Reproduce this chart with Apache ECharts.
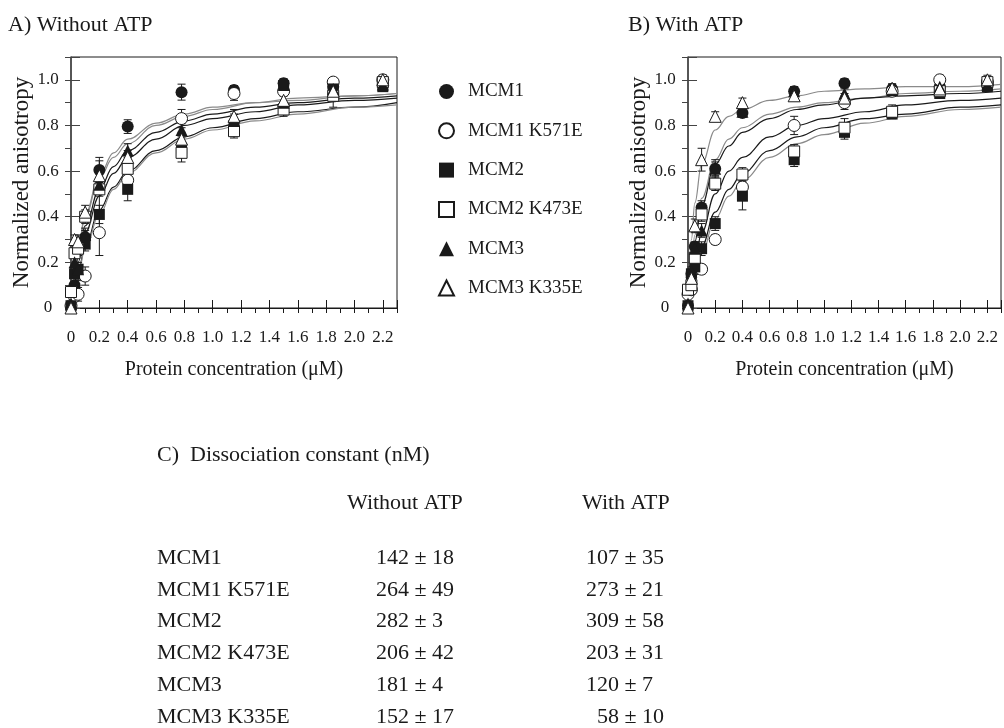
<!DOCTYPE html>
<html>
<head>
<meta charset="utf-8">
<title>MCM binding - anisotropy</title>
<script src="https://cdn.jsdelivr.net/npm/echarts@6/dist/echarts.min.js"></script>
<style>
html, body { margin: 0; padding: 0; background: #fff; }
#chart_main { width: 1004px; height: 728px; }
</style>
</head>
<body>
<div id="chart_main"></div>
<script>
// protein names (legend + table rows)
var names = ['MCM1', 'MCM1 K571E', 'MCM2', 'MCM2 K473E', 'MCM3', 'MCM3 K335E'];
var symbols = ['circle', 'circle', 'rect', 'rect', 'triangle', 'triangle'];
var filled = [true, false, true, false, true, false];

// protein concentration (uM) of the measured points
var conc = [0, 0.025, 0.05, 0.1, 0.2, 0.4, 0.78, 1.15, 1.5, 1.85, 2.2];

// A) without ATP - normalized anisotropy
var noAtp_mcm1  = [0.00, 0.10, 0.15, 0.31, 0.605, 0.795, 0.946, 0.955, 0.985, 0.97, 0.98];
var noAtp_k571e = [0.01, 0.05, 0.06, 0.14, 0.33, 0.56, 0.83, 0.94, 0.95, 0.99, 1.00];
var noAtp_mcm2  = [0.01, 0.15, 0.17, 0.28, 0.41, 0.52, 0.70, 0.80, 0.975, 0.96, 0.97];
var noAtp_k473e = [0.07, 0.24, 0.26, 0.40, 0.52, 0.61, 0.68, 0.775, 0.87, 0.93, 0.99];
var noAtp_mcm3  = [0.02, 0.20, 0.17, 0.32, 0.54, 0.69, 0.78, 0.82, 0.90, 0.96, 0.98];
var noAtp_k335e = [0.00, 0.30, 0.29, 0.42, 0.58, 0.66, 0.74, 0.84, 0.91, 0.95, 1.00];
// error bars (+/-)
var noAtpErr_mcm1  = [0, 0, 0.03, 0.03, 0.04, 0.03, 0.035, 0.02, 0.02, 0.02, 0.02];
var noAtpErr_k571e = [0, 0, 0.03, 0.04, 0.10, 0.04, 0.04, 0.03, 0.02, 0.02, 0.02];
var noAtpErr_mcm2  = [0, 0.02, 0.03, 0.03, 0.04, 0.05, 0.03, 0.02, 0.02, 0.02, 0.02];
var noAtpErr_k473e = [0, 0.02, 0.03, 0.03, 0.03, 0.04, 0.04, 0.03, 0.03, 0.05, 0.02];
var noAtpErr_mcm3  = [0, 0.02, 0.02, 0.03, 0.12, 0.03, 0.03, 0.03, 0.03, 0.02, 0.02];
var noAtpErr_k335e = [0, 0.02, 0.03, 0.03, 0.04, 0.03, 0.03, 0.03, 0.03, 0.02, 0.02];

// B) with ATP
var atp_mcm1  = [0.01, 0.15, 0.27, 0.44, 0.61, 0.855, 0.95, 0.985, 0.96, 0.97, 0.98];
var atp_k571e = [0.06, 0.08, 0.17, 0.17, 0.30, 0.53, 0.80, 0.90, 0.95, 1.00, 0.99];
var atp_mcm2  = [0.01, 0.15, 0.18, 0.26, 0.37, 0.49, 0.65, 0.77, 0.85, 0.94, 0.97];
var atp_k473e = [0.08, 0.10, 0.22, 0.41, 0.545, 0.585, 0.686, 0.79, 0.86, 0.95, 0.99];
var atp_mcm3  = [0.02, 0.16, 0.26, 0.34, 0.61, 0.86, 0.95, 0.94, 0.955, 0.97, 0.98];
var atp_k335e = [0.00, 0.13, 0.36, 0.65, 0.84, 0.90, 0.93, 0.92, 0.963, 0.96, 1.00];
var atpErr_mcm1  = [0, 0.02, 0.02, 0.03, 0.04, 0.02, 0.02, 0.02, 0.02, 0.02, 0.02];
var atpErr_k571e = [0, 0.02, 0.02, 0.02, 0.02, 0.03, 0.04, 0.03, 0.02, 0.02, 0.02];
var atpErr_mcm2  = [0, 0.02, 0.02, 0.03, 0.03, 0.06, 0.03, 0.03, 0.02, 0.02, 0.02];
var atpErr_k473e = [0, 0.02, 0.03, 0.03, 0.03, 0.03, 0.03, 0.04, 0.03, 0.02, 0.02];
var atpErr_mcm3  = [0, 0.02, 0.02, 0.03, 0.03, 0.02, 0.02, 0.02, 0.02, 0.02, 0.02];
var atpErr_k335e = [0, 0.02, 0.03, 0.05, 0.02, 0.02, 0.02, 0.02, 0.02, 0.02, 0.02];

// fitted binding curves, sampled from the figure
var fitX = [0, 0.025, 0.05, 0.1, 0.2, 0.3, 0.4, 0.6, 0.8, 1.0, 1.3, 1.6, 2.0, 2.3];
var noAtpFit_mcm1  = [0, 0.15, 0.26, 0.41, 0.58, 0.68, 0.74, 0.81, 0.85, 0.88, 0.90, 0.92, 0.93, 0.94];
var noAtpFit_k571e = [0, 0.09, 0.16, 0.27, 0.43, 0.53, 0.60, 0.69, 0.75, 0.79, 0.83, 0.86, 0.88, 0.90];
var noAtpFit_mcm2  = [0, 0.08, 0.15, 0.26, 0.41, 0.52, 0.59, 0.68, 0.74, 0.78, 0.82, 0.85, 0.88, 0.89];
var noAtpFit_k473e = [0, 0.11, 0.20, 0.33, 0.49, 0.59, 0.66, 0.74, 0.80, 0.83, 0.86, 0.89, 0.91, 0.92];
var noAtpFit_mcm3  = [0, 0.12, 0.22, 0.36, 0.52, 0.62, 0.69, 0.77, 0.82, 0.85, 0.88, 0.90, 0.92, 0.93];
var noAtpFit_k335e = [0, 0.14, 0.25, 0.40, 0.57, 0.66, 0.72, 0.80, 0.84, 0.87, 0.90, 0.91, 0.93, 0.94];
var atpFit_mcm1  = [0, 0.19, 0.32, 0.48, 0.65, 0.74, 0.79, 0.85, 0.88, 0.90, 0.92, 0.94, 0.95, 0.96];
var atpFit_k571e = [0, 0.08, 0.15, 0.27, 0.42, 0.52, 0.59, 0.69, 0.75, 0.79, 0.83, 0.85, 0.88, 0.89];
var atpFit_mcm2  = [0, 0.07, 0.14, 0.24, 0.39, 0.49, 0.56, 0.66, 0.72, 0.76, 0.81, 0.84, 0.87, 0.88];
var atpFit_k473e = [0, 0.11, 0.20, 0.33, 0.50, 0.60, 0.66, 0.75, 0.80, 0.83, 0.86, 0.89, 0.91, 0.92];
var atpFit_mcm3  = [0, 0.17, 0.29, 0.45, 0.63, 0.71, 0.77, 0.83, 0.87, 0.89, 0.92, 0.93, 0.94, 0.95];
var atpFit_k335e = [0, 0.30, 0.46, 0.63, 0.78, 0.84, 0.87, 0.91, 0.93, 0.95, 0.96, 0.97, 0.97, 0.98];

// C) dissociation constants (nM)
var kdNoAtp    = [142, 264, 282, 206, 181, 152];
var kdNoAtpErr = [18, 49, 3, 42, 4, 17];
var kdAtp      = [107, 273, 309, 203, 120, 58];
var kdAtpErr   = [35, 21, 58, 31, 7, 10];

var noAtpVals = [noAtp_mcm1, noAtp_k571e, noAtp_mcm2, noAtp_k473e, noAtp_mcm3, noAtp_k335e];
var noAtpErrs = [noAtpErr_mcm1, noAtpErr_k571e, noAtpErr_mcm2, noAtpErr_k473e, noAtpErr_mcm3, noAtpErr_k335e];
var atpVals = [atp_mcm1, atp_k571e, atp_mcm2, atp_k473e, atp_mcm3, atp_k335e];
var atpErrs = [atpErr_mcm1, atpErr_k571e, atpErr_mcm2, atpErr_k473e, atpErr_mcm3, atpErr_k335e];
var noAtpFits = [noAtpFit_mcm1, noAtpFit_k571e, noAtpFit_mcm2, noAtpFit_k473e, noAtpFit_mcm3, noAtpFit_k335e];
var atpFits = [atpFit_mcm1, atpFit_k571e, atpFit_mcm2, atpFit_k473e, atpFit_mcm3, atpFit_k335e];
var fitColors = ['#8a8a8a', '#1a1a1a', '#8a8a8a', '#1a1a1a', '#1a1a1a', '#8a8a8a'];

var SERIF = '"Liberation Serif", "Times New Roman", serif';
var INK = '#1a1a1a';

function tickLabel(v) {
    if (Math.abs(v * 5 - Math.round(v * 5)) > 1e-6) return '';
    return v === 0 ? '0' : v.toFixed(1);
}

function zip(xs, ys) {
    var out = [];
    for (var i = 0; i < xs.length; i++) {
        if (ys[i] != null) out.push([xs[i], ys[i]]);
    }
    return out;
}

function errData(vals, errs) {
    var out = [];
    for (var i = 0; i < conc.length; i++) {
        if (errs[i] > 0) out.push([conc[i], vals[i] - errs[i], vals[i] + errs[i]]);
    }
    return out;
}

function renderErr(params, api) {
    var x = api.value(0);
    var top = api.coord([x, api.value(2)]);
    var bot = api.coord([x, api.value(1)]);
    var w = 4;
    var st = { stroke: INK, lineWidth: 1 };
    return {
        type: 'group',
        children: [
            { type: 'line', shape: { x1: top[0], y1: top[1], x2: bot[0], y2: bot[1] }, style: st },
            { type: 'line', shape: { x1: top[0] - w, y1: top[1], x2: top[0] + w, y2: top[1] }, style: st },
            { type: 'line', shape: { x1: bot[0] - w, y1: bot[1], x2: bot[0] + w, y2: bot[1] }, style: st }
        ]
    };
}

// main axes (labels, long ticks) + helper axes (short ticks every 0.1)
function mainX(grid) {
    return {
        type: 'value', gridIndex: grid, min: 0, max: 2.3, interval: 0.2,
        name: 'Protein concentration (\u03bcM)', nameLocation: 'middle', nameGap: 52,
        nameTextStyle: { fontFamily: SERIF, fontSize: 20, color: INK },
        axisLine: { show: true, lineStyle: { color: INK, width: 1 } },
        axisTick: { show: true, inside: true, length: 8, lineStyle: { color: INK } },
        axisLabel: { fontFamily: SERIF, fontSize: 17, color: INK, margin: 21, formatter: tickLabel },
        splitLine: { show: false }
    };
}
function minorX(grid) {
    return {
        type: 'value', gridIndex: grid, min: 0, max: 2.3, interval: 0.1,
        axisLine: { show: false },
        axisTick: { show: true, inside: true, length: 5, lineStyle: { color: INK } },
        axisLabel: { show: false }, splitLine: { show: false }
    };
}
function mainY(grid) {
    return {
        type: 'value', gridIndex: grid, min: 0, max: 1.1, interval: 0.2,
        name: 'Normalized anisotropy', nameLocation: 'middle', nameGap: 38, nameRotate: 90,
        nameTextStyle: { fontFamily: SERIF, fontSize: 23, color: INK },
        axisLine: { show: true, lineStyle: { color: '#444', width: 1.5 } },
        axisTick: { show: true, inside: true, length: 9, lineStyle: { color: '#444' } },
        axisLabel: { fontFamily: SERIF, fontSize: 17, color: INK, margin: 23, align: 'center', formatter: tickLabel },
        splitLine: { show: false }
    };
}
function minorY(grid) {
    return {
        type: 'value', gridIndex: grid, min: 0, max: 1.1, interval: 0.1,
        axisLine: { show: false },
        axisTick: { show: true, inside: true, length: 6, lineStyle: { color: '#444' } },
        axisLabel: { show: false }, splitLine: { show: false }
    };
}

function buildSeries(panel, vals, errs, fits) {
    var out = [];
    for (var i = 0; i < names.length; i++) {
        out.push({
            name: names[i] + ' fit ' + panel, type: 'line', xAxisIndex: panel, yAxisIndex: panel,
            data: zip(fitX, fits[i]), smooth: 0.4, smoothMonotone: 'x', showSymbol: false,
            lineStyle: { color: fitColors[i], width: 1.2 }, z: 2, silent: true
        });
        out.push({
            name: names[i] + ' err ' + panel, type: 'custom', xAxisIndex: panel, yAxisIndex: panel,
            data: errData(vals[i], errs[i]), renderItem: renderErr,
            encode: { x: 0, y: [1, 2] }, z: 3, silent: true
        });
    }
    for (var j = 0; j < names.length; j++) {
        out.push({
            name: names[j], type: 'scatter', xAxisIndex: panel, yAxisIndex: panel,
            data: zip(conc, vals[j]), symbol: symbols[j],
            symbolSize: symbols[j] == 'rect' ? 11 : 12,
            itemStyle: {
                color: filled[j] ? INK : '#fff',
                borderColor: INK, borderWidth: filled[j] ? 0 : 1, opacity: 1
            },
            z: 4
        });
    }
    return out;
}

function tableGraphics() {
    var g = [];
    var txt = function(x, y, s) {
        return { type: 'text', x: x, y: y, style: { text: s, fontFamily: SERIF, fontSize: 22, fill: INK, verticalAlign: 'middle' } };
    };
    g.push(txt(8, 25, 'A) Without ATP'));
    g.push(txt(628, 25, 'B) With ATP'));
    g.push(txt(157, 455, 'C)  Dissociation constant (nM)'));
    g.push(txt(347, 503, 'Without ATP'));
    g.push(txt(582, 503, 'With ATP'));
    var digit = 11;
    for (var i = 0; i < names.length; i++) {
        var y = 558 + i * 31.8;
        g.push(txt(157, y, names[i]));
        g.push(txt(376 + (3 - String(kdNoAtp[i]).length) * digit, y, kdNoAtp[i] + ' \u00b1 ' + kdNoAtpErr[i]));
        g.push(txt(586 + (3 - String(kdAtp[i]).length) * digit, y, kdAtp[i] + ' \u00b1 ' + kdAtpErr[i]));
    }
    return g;
}

var myChart = echarts.init(document.getElementById('chart_main'), null, { renderer: 'canvas' });
var option = {
    animation: false,
    backgroundColor: '#fff',
    legend: {
        data: names.map(function(n, i) { return { name: n, icon: symbols[i] }; }),
        orient: 'vertical', left: 433, top: 77,
        itemWidth: 15, itemHeight: 15, itemGap: 20.3,
        selectedMode: false,
        textStyle: { fontFamily: SERIF, fontSize: 19, color: INK, padding: [0, 0, 0, 9] }
    },
    grid: [
        { left: 71, top: 57, width: 326, height: 251, show: true, borderColor: INK, borderWidth: 1, containLabel: false },
        { left: 688, top: 57, width: 327, height: 251, show: true, borderColor: INK, borderWidth: 1, containLabel: false }
    ],
    xAxis: [mainX(0), mainX(1), minorX(0), minorX(1)],
    yAxis: [mainY(0), mainY(1), minorY(0), minorY(1)],
    graphic: tableGraphics(),
    series: buildSeries(0, noAtpVals, noAtpErrs, noAtpFits).concat(buildSeries(1, atpVals, atpErrs, atpFits))
};
myChart.setOption(option);
</script>
</body>
</html>
